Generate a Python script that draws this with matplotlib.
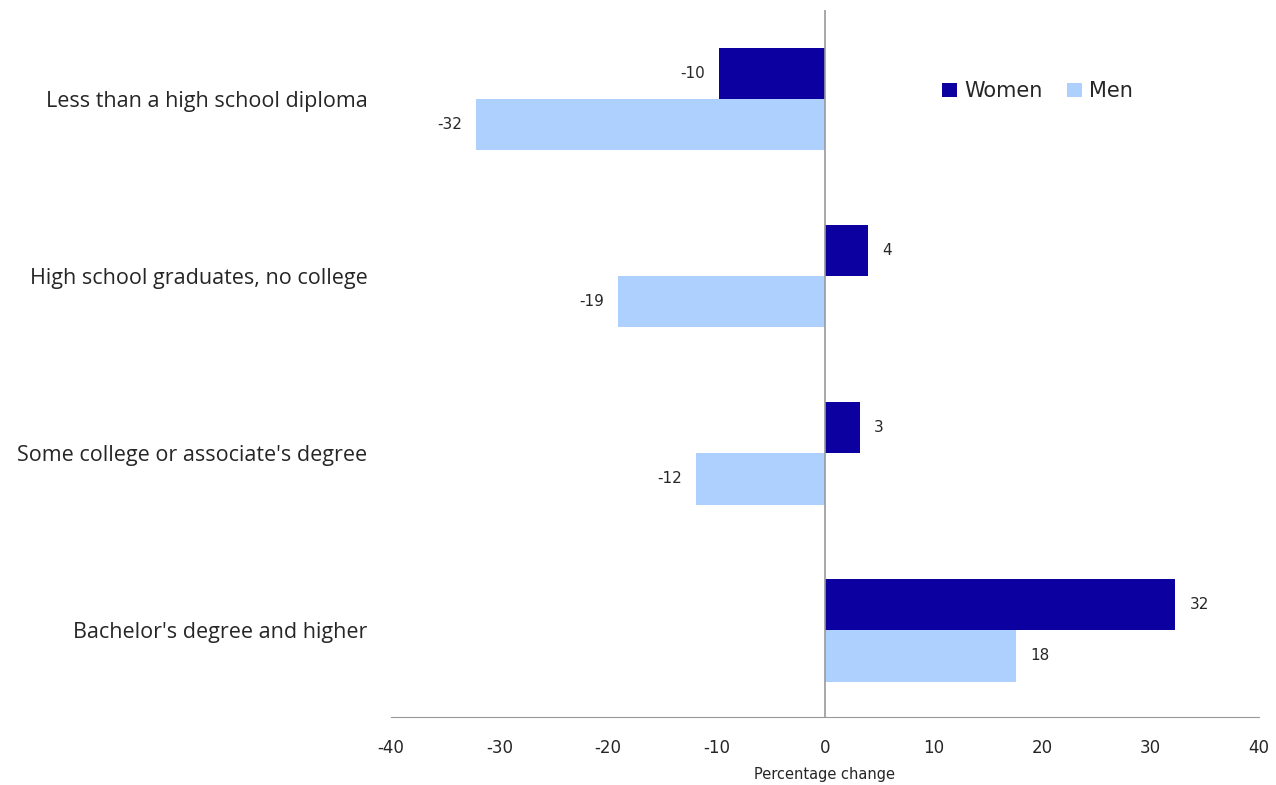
import matplotlib
matplotlib.use("Agg")
import matplotlib.pyplot as plt
import numpy as np

categories = ["Less than a high school diploma", "High school graduates, no college",
              "Some college or associate's degree", "Bachelor's degree and higher"]
women = [-9.8, 4.0, 3.2, 32.3]
men = [-32.2, -19.1, -11.9, 17.6]
xticks = [-40, -30, -20, -10, 0, 10, 20, 30, 40]

plt.rcParams['font.family'] = ['DejaVu Sans']
fig = plt.figure(figsize=(12.76, 7.85), dpi=100)
ax = fig.add_axes([391/1276, 1-717/785, (1259-391)/1276, (717-10)/785])

y = np.arange(len(categories))
h = 0.29
cw = '#0c00a0'
cm = '#aed0ff'
txt = '#262626'
bw = ax.barh(y - h/2, women, height=h, color=cw, label='Women')
bm = ax.barh(y + h/2, men, height=h, color=cm, label='Men')
ax.bar_label(bw, labels=[f"{v:.0f}" for v in women], padding=10, fontsize=11, color=txt)
ax.bar_label(bm, labels=[f"{v:.0f}" for v in men], padding=10, fontsize=11, color=txt)

ax.set_xlim(-40, 40)
ax.set_ylim(3.49, -0.503)
ax.set_xticks(xticks)
ax.set_xticklabels([str(t) for t in xticks], fontsize=12, color=txt)
ax.tick_params(axis='x', length=0, pad=16)
ax.set_yticks(y)
ax.set_yticklabels(categories, fontsize=15.5, color=txt, family=['Open Sans', 'DejaVu Sans'])
ax.tick_params(axis='y', length=0, pad=17)
ax.set_xlabel("Percentage change", fontsize=10.5, color=txt, labelpad=7)

for s in ['top', 'right', 'left']:
    ax.spines[s].set_visible(False)
ax.spines['bottom'].set_color('#999999')
ax.axvline(0, color='#999999', lw=1.2, zorder=3)

ax.legend(loc='center right', bbox_to_anchor=(0.855, 0.885), ncol=2, frameon=False,
          fontsize=15, handlelength=0.7, handleheight=0.7, columnspacing=1.2, handletextpad=0.35,
          borderpad=0, borderaxespad=0, labelcolor=txt)

fig.savefig("out.png", dpi=100)
